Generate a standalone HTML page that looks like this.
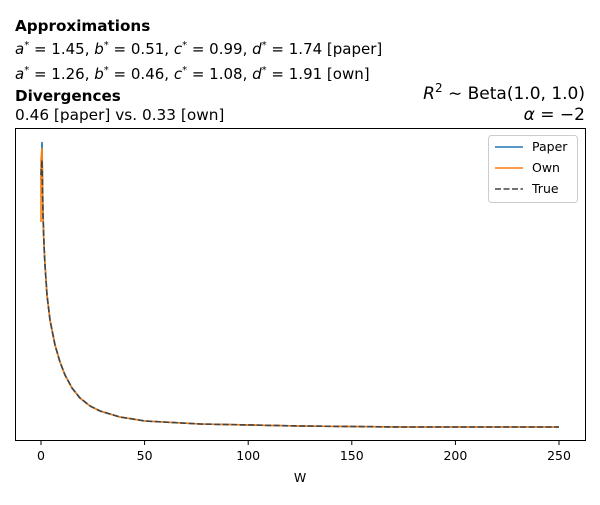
<!DOCTYPE html>
<html><head><style>
body{margin:0;background:#fff;font-family:"Liberation Sans","DejaVu Sans",sans-serif;}
</style></head><body>
<svg width="600" height="500" xmlns="http://www.w3.org/2000/svg" font-family="DejaVu Sans, Liberation Sans, sans-serif">
<rect width="600" height="500" fill="#fff"/>
<text x="15" y="31" font-size="15.2" font-weight="bold">Approximations</text>
<text x="15" y="54" font-size="15"><tspan font-style="italic">a</tspan><tspan dy="-6" font-size="10">*</tspan><tspan dy="6"> = 1.45, </tspan><tspan font-style="italic">b</tspan><tspan dy="-6" font-size="10">*</tspan><tspan dy="6"> = 0.51, </tspan><tspan font-style="italic">c</tspan><tspan dy="-6" font-size="10">*</tspan><tspan dy="6"> = 0.99, </tspan><tspan font-style="italic">d</tspan><tspan dy="-6" font-size="10">*</tspan><tspan dy="6"> = 1.74 [paper]</tspan></text>
<text x="15" y="79" font-size="15"><tspan font-style="italic">a</tspan><tspan dy="-6" font-size="10">*</tspan><tspan dy="6"> = 1.26, </tspan><tspan font-style="italic">b</tspan><tspan dy="-6" font-size="10">*</tspan><tspan dy="6"> = 0.46, </tspan><tspan font-style="italic">c</tspan><tspan dy="-6" font-size="10">*</tspan><tspan dy="6"> = 1.08, </tspan><tspan font-style="italic">d</tspan><tspan dy="-6" font-size="10">*</tspan><tspan dy="6"> = 1.91 [own]</tspan></text>
<text x="15" y="101" font-size="15.2" font-weight="bold">Divergences</text>
<text x="15" y="120" font-size="15.3">0.46 [paper] vs. 0.33 [own]</text>
<text x="585" y="99" font-size="17" text-anchor="end"><tspan font-style="italic">R</tspan><tspan dy="-7" font-size="12">2</tspan><tspan dy="7"> ∼  Beta(1.0, 1.0)</tspan></text>
<text x="585" y="120" font-size="17" text-anchor="end"><tspan font-style="italic">α</tspan> = −2</text>
<rect x="15.5" y="128.5" width="570" height="312" fill="none" stroke="#000" stroke-width="1"/>
<g stroke="#000" stroke-width="1">
<line x1="41" y1="441" x2="41" y2="445"/><line x1="144.6" y1="441" x2="144.6" y2="445"/><line x1="248.2" y1="441" x2="248.2" y2="445"/><line x1="351.8" y1="441" x2="351.8" y2="445"/><line x1="455.4" y1="441" x2="455.4" y2="445"/><line x1="559" y1="441" x2="559" y2="445"/>
</g>
<g font-size="12.5" text-anchor="middle">
<text x="41" y="460">0</text><text x="144.6" y="460">50</text><text x="248.2" y="460">100</text><text x="351.8" y="460">150</text><text x="455.4" y="460">200</text><text x="559" y="460">250</text>
<text x="300" y="482">W</text>
</g>
<g fill="none" stroke-width="1.6">
<path stroke="#1f77b4" d="M41,180 L42,142 L43,215 L44,245 L45,265 L47,295 L50,320 L55,345 L60,362 L65,375 L72,388 L80,398 L90,406 L100,411 L120,417 L145,421 L200,424 L300,426 L400,427 L559,427"/>
<path stroke="#ff7f0e" d="M41,222 L41,160 L42,148 L43,215 L44,245 L45,265 L47,295 L50,320 L55,345 L60,362 L65,375 L72,388 L80,398 L90,406 L100,411 L120,417 L145,421 L200,424 L300,426 L400,427 L559,427"/>
<path stroke="#444" stroke-dasharray="6,2.5" d="M41,175 L42,160 L43,215 L44,245 L45,265 L47,295 L50,320 L55,345 L60,362 L65,375 L72,388 L80,398 L90,406 L100,411 L120,417 L145,421 L200,424 L300,426 L400,427 L559,427"/>
</g>
<rect x="488.5" y="135.5" width="89" height="67" rx="3" fill="#fff" stroke="#ccc"/>
<g stroke-width="1.6">
<line x1="495" y1="147" x2="523" y2="147" stroke="#1f77b4"/>
<line x1="495" y1="168" x2="523" y2="168" stroke="#ff7f0e"/>
<line x1="495" y1="189" x2="523" y2="189" stroke="#444" stroke-dasharray="6,2.5"/>
</g>
<g font-size="12.5"><text x="532" y="151">Paper</text><text x="532" y="172">Own</text><text x="532" y="193">True</text></g>
</svg>
</body></html>
